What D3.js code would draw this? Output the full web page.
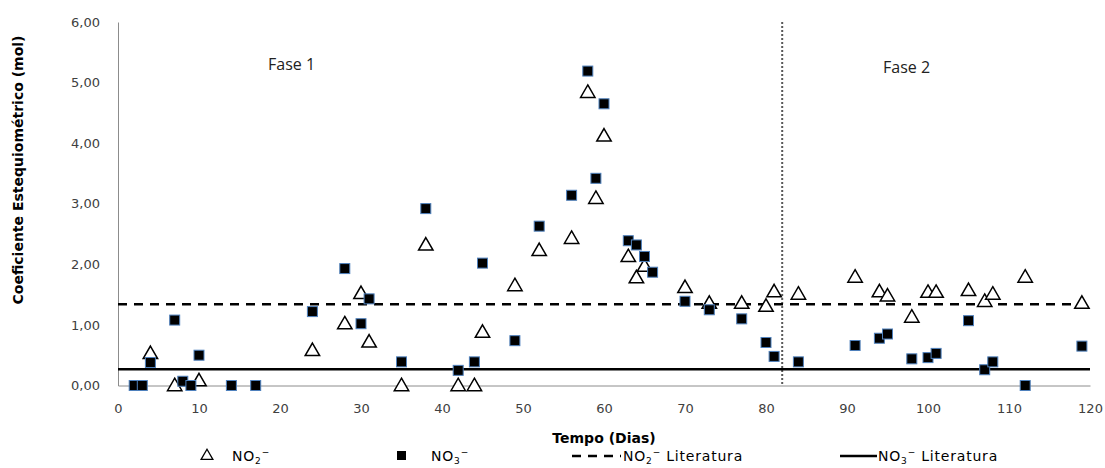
<!DOCTYPE html>
<html>
<head>
<meta charset="utf-8">
<script src="https://cdn.jsdelivr.net/npm/d3@7"></script>
<style>
    body { margin: 0; background: #fff; }
    #chart { width: 1105px; height: 468px; }
</style>
</head>
<body>
<div id="chart"></div>
<script>
// dias e coeficientes
var no2Days = [4, 7, 10, 24, 28, 30, 31, 35, 38, 42, 44, 45, 49, 52, 56, 58, 59, 60, 63, 64, 65, 70, 73, 77, 80, 81, 84, 91, 94, 95, 98, 100, 101, 105, 107, 108, 112, 119];
var no2Values = [0.53, 0, 0.08, 0.58, 1.02, 1.52, 0.72, 0, 2.32, 0, 0, 0.88, 1.65, 2.23, 2.43, 4.84, 3.09, 4.12, 2.13, 1.78, 1.97, 1.62, 1.36, 1.36, 1.31, 1.55, 1.51, 1.79, 1.55, 1.48, 1.13, 1.54, 1.54, 1.57, 1.39, 1.51, 1.79, 1.36];

var no3Days = [2, 3, 4, 7, 8, 9, 10, 14, 17, 24, 28, 30, 31, 35, 38, 42, 44, 45, 49, 52, 56, 58, 59, 60, 63, 64, 65, 66, 70, 73, 77, 80, 81, 84, 91, 94, 95, 98, 100, 101, 105, 107, 108, 112, 119];
var no3Values = [0, 0, 0.38, 1.08, 0.07, 0, 0.5, 0, 0, 1.22, 1.93, 1.02, 1.43, 0.39, 2.92, 0.25, 0.39, 2.02, 0.74, 2.63, 3.14, 5.19, 3.42, 4.65, 2.39, 2.32, 2.13, 1.87, 1.39, 1.25, 1.10, 0.71, 0.48, 0.39, 0.66, 0.78, 0.85, 0.44, 0.46, 0.53, 1.07, 0.26, 0.39, 0, 0.65];

var no2Literatura = 1.34;
var no3Literatura = 0.27;
var phaseDivider = 82;

var xTicks = [0, 10, 20, 30, 40, 50, 60, 70, 80, 90, 100, 110, 120];
var yTicks = [0, 1, 2, 3, 4, 5, 6];

function ScatterChart() {

    var self = this;

    self.initialize = function (conf) {
        self.el = document.getElementById(conf.el);
        self.margin = { top: 22, right: 15, bottom: 82.5, left: 118 };
        self.graphWidth = self.el.offsetWidth;
        self.graphHeight = self.el.offsetHeight;
        self.width = self.graphWidth - self.margin.left - self.margin.right;
        self.height = self.graphHeight - self.margin.top - self.margin.bottom;

        self.no2 = no2Days.map(function (d, i) { return { day: d, value: no2Values[i] }; });
        self.no3 = no3Days.map(function (d, i) { return { day: d, value: no3Values[i] }; });

        self.xScale = d3.scaleLinear().domain([0, 120]).range([0, self.width]);
        self.yScale = d3.scaleLinear().domain([0, 6]).range([self.height, 0]);
        self.fmt = d3.formatLocale({ decimal: ",", thousands: ".", grouping: [3], currency: ["R$", ""] }).format(".2f");

        self.render();
    }

    self.render = function () {
        self.svg = d3.select(self.el).append("svg")
            .attr("width", self.graphWidth)
            .attr("height", self.graphHeight)
            .append("g")
            .attr("transform", "translate(" + self.margin.left + "," + self.margin.top + ")");

        self.renderAxes();
        self.renderLines();
        self.renderPoints();
        self.renderLabels();
        self.renderLegend();
    }

    self.renderAxes = function () {
        var xAxis = self.svg.append("g")
            .attr("transform", "translate(0," + self.height + ")")
            .call(d3.axisBottom(self.xScale).tickValues(xTicks).tickSize(0).tickPadding(18));

        var yAxis = self.svg.append("g")
            .call(d3.axisLeft(self.yScale).tickValues(yTicks).tickFormat(self.fmt).tickSize(0).tickPadding(18));

        [xAxis, yAxis].forEach(function (ax) {
            ax.select(".domain").attr("stroke", "#8c8c8c").attr("stroke-width", 1);
            ax.selectAll(".tick text")
                .style("font-family", "'DejaVu Sans', sans-serif")
                .style("font-size", "13px")
                .attr("fill", "#404040");
        });
    }

    self.renderLines = function () {
        /*  divisao entre fases  */
        self.svg.append("line")
            .attr("x1", self.xScale(phaseDivider)).attr("x2", self.xScale(phaseDivider))
            .attr("y1", 0).attr("y2", self.height)
            .attr("stroke", "#595959")
            .attr("stroke-width", 2)
            .attr("stroke-dasharray", "2,2");

        self.svg.append("line")
            .attr("x1", 0).attr("x2", self.width)
            .attr("y1", self.yScale(no2Literatura)).attr("y2", self.yScale(no2Literatura))
            .attr("stroke", "#000")
            .attr("stroke-width", 2.5)
            .attr("stroke-dasharray", "9,7");

        self.svg.append("line")
            .attr("x1", 0).attr("x2", self.width)
            .attr("y1", self.yScale(no3Literatura)).attr("y2", self.yScale(no3Literatura))
            .attr("stroke", "#000")
            .attr("stroke-width", 2.5);
    }

    self.renderPoints = function () {
        var tri = d3.symbol().type(d3.symbolTriangle).size(90);

        self.svg.selectAll(".no2")
            .data(self.no2)
            .enter().append("path")
            .attr("class", "no2")
            .attr("d", tri)
            .attr("transform", function (d) {
                return "translate(" + self.xScale(d.day) + "," + (self.yScale(d.value) + 1) + ")";
            })
            .attr("fill", "#fff")
            .attr("stroke", "#000")
            .attr("stroke-width", 1.5);

        var s = 10;
        self.svg.selectAll(".no3")
            .data(self.no3)
            .enter().append("rect")
            .attr("class", "no3")
            .attr("x", function (d) { return self.xScale(d.day) - s / 2; })
            .attr("y", function (d) { return self.yScale(d.value) - s / 2; })
            .attr("width", s)
            .attr("height", s)
            .attr("fill", "#000")
            .attr("stroke", "#4f81bd")
            .attr("stroke-width", 1);
    }

    self.renderLabels = function () {
        self.svg.append("text")
            .attr("x", self.width / 2)
            .attr("y", self.height + 57)
            .attr("text-anchor", "middle")
            .style("font-family", "'DejaVu Sans', sans-serif")
            .style("font-size", "14px")
            .style("font-weight", "bold")
            .text("Tempo (Dias)");

        self.svg.append("text")
            .attr("transform", "translate(" + (-95) + "," + (170 - self.margin.top) + ") rotate(-90)")
            .attr("text-anchor", "middle")
            .style("font-family", "'DejaVu Sans', sans-serif")
            .style("font-size", "14px")
            .style("font-weight", "bold")
            .text("Coeficiente Estequiométrico (mol)");

        self.svg.append("text")
            .attr("x", 150).attr("y", 48)
            .style("font-family", "'Open Sans', sans-serif")
            .style("font-size", "16px")
            .attr("fill", "#222")
            .text("Fase 1");

        self.svg.append("text")
            .attr("x", 765).attr("y", 51)
            .style("font-family", "'Open Sans', sans-serif")
            .style("font-size", "16px")
            .attr("fill", "#222")
            .text("Fase 2");
    }

    self.renderLegend = function () {
        var lg = d3.select(self.el).select("svg").append("g")
            .style("font-family", "'DejaVu Sans', sans-serif")
            .style("font-size", "14px")
            .style("letter-spacing", "0.8px");
        var ly = 461;

        function ionLabel(x, sub, extra) {
            var t = lg.append("text").attr("x", x).attr("y", ly);
            t.append("tspan").text("NO");
            t.append("tspan").attr("font-size", "9px").attr("dy", 2.5).text(sub);
            t.append("tspan").attr("font-size", "9px").attr("dy", -8.5).text("\u2212");
            if (extra) t.append("tspan").attr("dy", 6).text(" " + extra);
        }

        lg.append("path")
            .attr("d", d3.symbol().type(d3.symbolTriangle).size(60))
            .attr("transform", "translate(207," + (ly - 5) + ")")
            .attr("fill", "#fff").attr("stroke", "#000").attr("stroke-width", 1.3);
        ionLabel(232, "2");

        lg.append("rect")
            .attr("x", 397).attr("y", ly - 10).attr("width", 9).attr("height", 9)
            .attr("fill", "#000");
        ionLabel(431, "3");

        lg.append("line")
            .attr("x1", 572).attr("x2", 621).attr("y1", ly - 5).attr("y2", ly - 5)
            .attr("stroke", "#000").attr("stroke-width", 2.5).attr("stroke-dasharray", "9,7");
        ionLabel(623, "2", "Literatura");

        lg.append("line")
            .attr("x1", 840).attr("x2", 877).attr("y1", ly - 5).attr("y2", ly - 5)
            .attr("stroke", "#000").attr("stroke-width", 2.5);
        ionLabel(878, "3", "Literatura");
    }
}

var chart = new ScatterChart();
chart.initialize({ el: "chart" });
</script>
</body>
</html>
